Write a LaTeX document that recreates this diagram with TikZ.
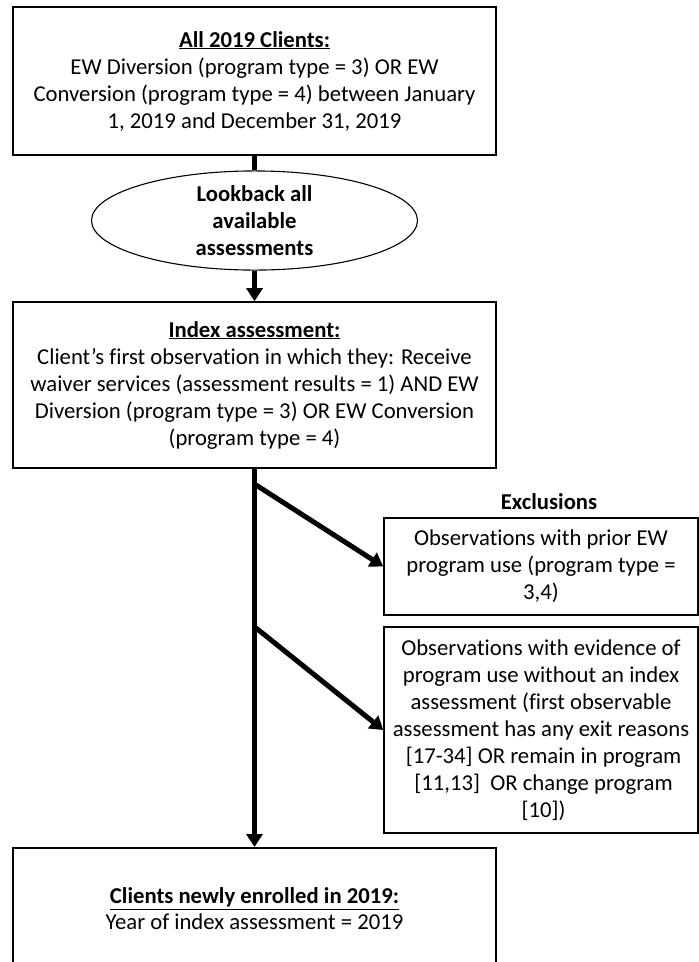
\documentclass[tikz,border=0pt]{standalone}
\usepackage{fontspec}
\setmainfont{Carlito}[Ligatures=CommonOff]
\usetikzlibrary{shapes.geometric,arrows.meta}
\begin{document}
\begin{tikzpicture}[x=1pt,y=-1pt,
  box/.style={draw, line width=1.6pt, align=center, inner sep=0pt,
    font=\fontsize{22.7}{27}\selectfont},
  oval/.style={draw, ellipse, line width=1.1pt, align=center, inner sep=0pt,
    font=\bfseries\fontsize{22.7}{27}\selectfont},
  thickline/.style={line width=5pt},
  flow/.style={line width=5pt, -{Triangle[length=13pt,width=16pt]}},
  head/.style={font=\bfseries\fontsize{22.7}{27}\selectfont}
]
\useasboundingbox (0,0) rectangle (699,962);

\node[box, minimum width=483pt, minimum height=148pt] (top) at (254.5,81)
  {\textbf{\underline{All 2019 Clients:}}\\
   EW Diversion (program type = 3) OR EW\\
   Conversion (program type = 4) between January\\
   1, 2019 and December 31, 2019};

\node[oval, minimum width=326pt, minimum height=95pt] (ell) at (254.5,220.5)
  {Lookback all\\available\\assessments};

\node[box, minimum width=483pt, minimum height=166pt] (idx) at (254.5,385)
  {\textbf{\underline{Index assessment:}}\\
   Client’s first observation in which they: Receive\\
   waiver services (assessment results = 1) AND EW\\
   Diversion (program type = 3) OR EW Conversion\\
   (program type = 4)};

\node[head] (exl) at (549,502) {Exclusions};

\node[box, minimum width=314pt, minimum height=97pt] (ex1) at (541,566.5)
  {Observations with prior EW\\
   program use (program type =\\
   3,4)};

\node[box, minimum width=314pt, minimum height=206pt] (ex2) at (541,730)
  {Observations with evidence of\\
   program use without an index\\
   assessment (first observable\\
   assessment has any exit reasons\\{}
   [17-34] OR remain in program\\{}
   [11,13]\ \ OR change program\\{}
   [10])};

\node[box, anchor=north, minimum width=483pt, minimum height=160pt] (bot) at (254.5,847) {};
\node[align=center, inner sep=0pt, font=\fontsize{22.7}{26}\selectfont] (bottxt) at (254.5,909)
  {\textbf{\underline{Clients newly enrolled in 2019:}}\\
   Year of index assessment = 2019};

\coordinate (b1) at (256,485);
\coordinate (b2) at (256,628);

\draw[thickline] (top.south) -- (ell.north);
\draw[flow] (ell.south) -- (idx.north);
\draw[flow] (idx.south) -- (bot.north);
\draw[flow] (b1) -- (ex1.west);
\draw[flow] (b2) -- (ex2.west);
\end{tikzpicture}
\end{document}
